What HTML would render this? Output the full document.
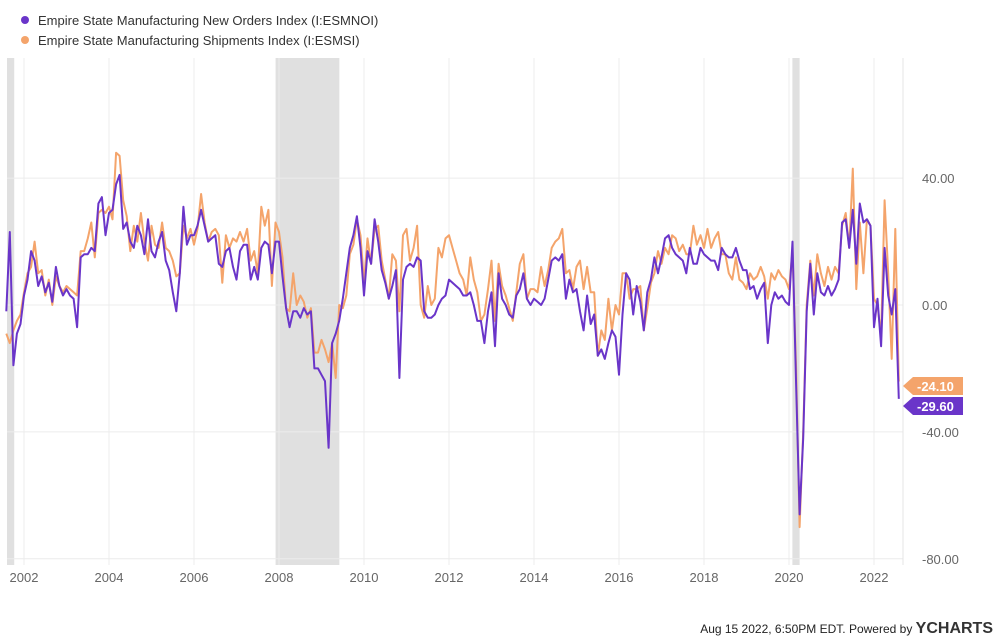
<!DOCTYPE html>
<html><head><meta charset="utf-8"><style>
html,body{margin:0;padding:0;background:#fff;width:997px;height:639px;overflow:hidden;font-family:"Liberation Sans",sans-serif}
svg text{font-family:"Liberation Sans",sans-serif}
</style></head><body>
<svg id="chart" width="997" height="639" xmlns="http://www.w3.org/2000/svg">
<g id="legend">
<g><circle cx="25" cy="20" r="4" fill="#6a35c9"/><text x="38" y="25" font-size="13" fill="#333">Empire State Manufacturing New Orders Index (I:ESMNOI)</text></g>
<g><circle cx="25" cy="40" r="4" fill="#f4a46b"/><text x="38" y="45" font-size="13" fill="#333">Empire State Manufacturing Shipments Index (I:ESMSI)</text></g>
</g>
<g id="bands"></g>
<g id="grid"></g>
<g id="series"></g>
<g id="axes"></g>
<text x="993" y="633" font-size="12" fill="#222" text-anchor="end">Aug 15 2022, 6:50PM EDT. Powered by <tspan font-weight="bold" font-size="16" fill="#333">YCHARTS</tspan></text>
</svg>
<script>
const startYear = 2001, startMonth = 8;
const newOrders = [
-2,23,-19,-9,-6,
3,8,17,14,6,9,4,7,1,12,6,3,
5,3,2,-7,15,16,16,18,17,32,34,22,
29,30,38,41,24,26,20,18,25,22,16,27,
17,15,20,23,14,11,4,-2,10,31,19,22,
22,25,30,25,20,21,22,13,12,17,18,12,
8,17,19,19,8,12,8,18,20,19,10,20,
20,9,-1,-7,-2,-2,-4,-1,-3,-2,-20,-20,
-22,-24,-45,-12,-9,-5,2,10,18,22,28,18,
3,17,13,27,20,11,7,2,6,11,-23,8,
12,13,12,15,14,-2,-4,-4,-3,0,2,3,
8,7,6,5,3,3,4,0,-5,-5,-12,-2,
4,-13,10,2,0,-3,-4,3,5,10,2,0,
2,1,0,2,8,14,15,14,16,2,8,4,
5,-2,-8,3,-6,-3,-16,-14,-17,-12,-8,-10,
-22,-3,10,8,-3,6,1,-8,4,8,15,10,
15,21,22,18,16,15,14,10,18,13,13,18,
16,15,14,14,11,18,16,15,15,18,14,11,
11,5,6,2,5,7,-12,0,4,2,3,1,
0,20,-25,-66,-42,-2,13,-3,10,4,3,6,
3,5,8,26,27,18,30,13,32,26,27,25,
-7,2,-13,18,3,-3,5,-29.6];
const shipments = [
-9,-12,-8,-5,-3,
4,10,12,20,10,11,3,8,0,9,6,4,
6,5,4,3,17,17,21,26,15,29,30,29,
31,27,48,47,33,28,17,25,20,29,20,14,
25,19,18,26,18,17,14,9,10,25,21,24,
19,24,35,26,20,23,24,22,7,22,18,21,
20,23,20,24,14,17,10,31,25,30,6,26,
23,15,-1,-2,10,0,3,1,-4,-1,-15,-15,
-11,-14,-18,-12,-23,0,-1,3,16,19,27,22,
7,21,13,24,25,14,8,2,16,14,-2,22,
24,14,18,25,0,-4,6,0,2,18,15,21,
22,18,14,10,8,3,15,8,4,-5,-3,5,
14,-5,13,6,3,-1,-5,4,13,16,2,5,
5,4,12,6,11,18,20,21,24,10,11,5,
12,14,5,12,4,4,-16,-8,-11,2,-8,0,
-3,10,10,2,5,5,6,-8,-1,7,10,17,
13,18,16,22,21,17,19,16,16,25,19,22,
18,24,18,21,23,16,16,10,8,15,8,7,
5,10,8,9,12,9,2,10,8,11,9,8,
5,17,-20,-70,-40,0,14,3,16,10,6,12,
8,12,10,25,29,18,43,5,26,10,27,25,
2,0,-10,33,10,-17,24,-24.1];
const yTicks = [40,0,-40,-80];
const yTickLabels = ["40.00","0.00","-40.00","-80.00"];
const xTicks = [2002,2004,2006,2008,2010,2012,2014,2016,2018,2020,2022];
const recessions = [[2001.2,2001.77],[2007.92,2009.42],[2020.08,2020.25]];
const lastLabels = ["-24.10","-29.60"];

const L=7,R=903,T=58,B=565;
const X=t=>24+(t-2002)*42.5;
const Y=v=>305-v*3.1725;
const NS="http://www.w3.org/2000/svg";
function mk(tag,attrs,parent){const e=document.createElementNS(NS,tag);for(const k in attrs)e.setAttribute(k,attrs[k]);parent.appendChild(e);return e;}
const bands=document.getElementById('bands'),grid=document.getElementById('grid'),series=document.getElementById('series'),axes=document.getElementById('axes');
recessions.forEach(r=>{const x0=Math.max(L,X(r[0])),x1=X(r[1]);
 const e=mk('rect',{x:x0,y:T,width:x1-x0,height:B-T,fill:'#e0e0e0'},bands);
 
 });
yTicks.forEach((v,i)=>{
 const g=mk('line',{x1:L,x2:R,y1:Y(v),y2:Y(v),stroke:'#ececec','stroke-width':1},grid);
 
 
 const t=mk('text',{x:922,y:Y(v)+5,'font-size':13,fill:'#666'},axes);t.textContent=yTickLabels[i];
 
 });
xTicks.forEach(yr=>{
 const g=mk('line',{x1:X(yr),x2:X(yr),y1:T,y2:B,stroke:'#ececec','stroke-width':1},grid);
 
 
 const t=mk('text',{x:X(yr),y:582,'font-size':13,fill:'#666','text-anchor':'middle'},axes);t.textContent=yr;
 
 });
const rl=mk('line',{x1:R,x2:R,y1:T,y2:B,stroke:'#e4e4e4'},grid);


function tOf(i){return startYear+(startMonth-1+i)/12;}
function draw(arr,color,name){
 const d=arr.map((v,i)=>(i?'L':'M')+X(tOf(i)).toFixed(1)+' '+Y(v).toFixed(1)).join(' ');
 const p=mk('path',{d:d,fill:'none',stroke:color,'stroke-width':2,'stroke-linejoin':'round'},series);
 
 }
draw(shipments,'#f4a46b','shipments-line');
draw(newOrders,'#6a35c9','new-orders-line');
function tag(y,label,color,name){
 const x=R;
 const g=mk('g',{},axes);
 
 
 mk('path',{d:`M${x} ${y} L${x+10} ${y-9} L${x+60} ${y-9} L${x+60} ${y+9} L${x+10} ${y+9} Z`,fill:color},g);
 const t=mk('text',{x:x+14,y:y+5,'font-size':13,'font-weight':'bold',fill:'#fff'},g);t.textContent=label;}
const yO=Y(shipments[shipments.length-1]), yP=Y(newOrders[newOrders.length-1]);
tag(yO+4.5,lastLabels[0],'#f4a46b','shipments-last-value');
tag(Math.max(yP+7,yO+24.5),lastLabels[1],'#6a35c9','new-orders-last-value');
</script>
</body></html>
